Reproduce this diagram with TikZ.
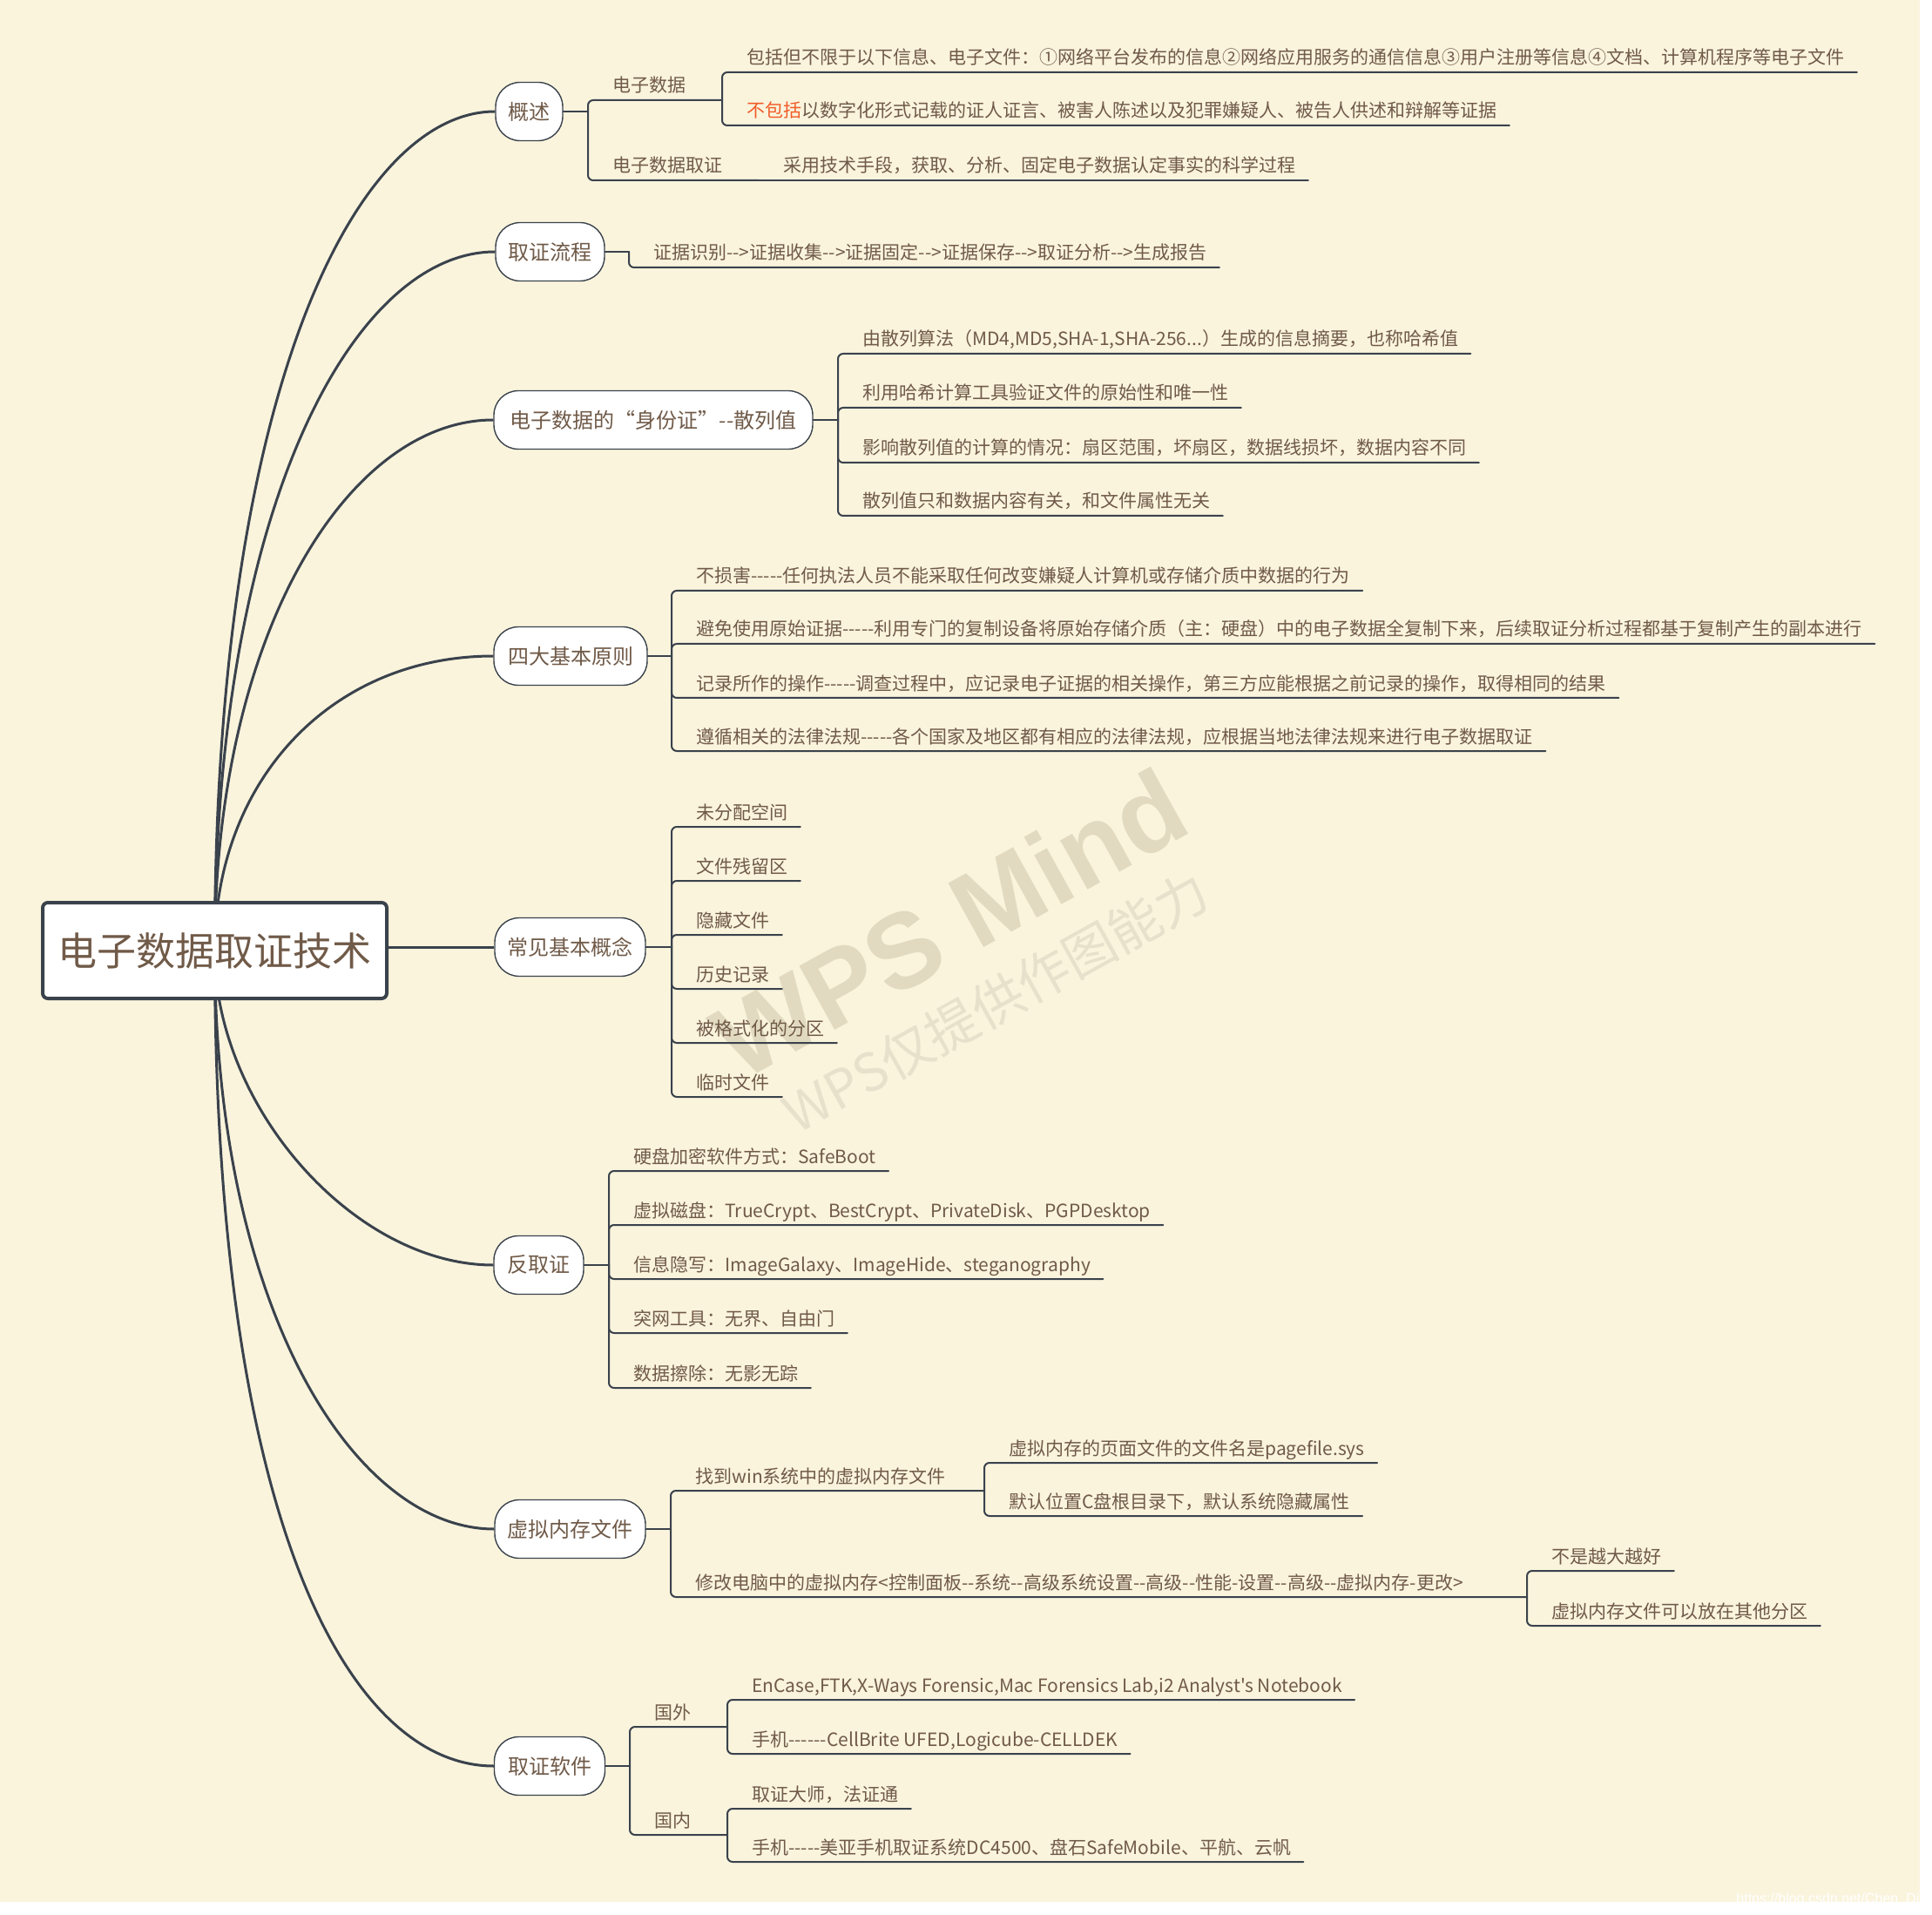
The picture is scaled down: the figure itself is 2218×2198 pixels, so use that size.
\documentclass[tikz,border=0pt]{standalone}
\usepackage{fontspec}
\newfontfamily\cjk{Noto Sans CJK SC}[Ligatures=TeXOff]
\newfontfamily\wmfont{Liberation Sans}
\usetikzlibrary{calc}
\pgfdeclarelayer{bgl}
\pgfdeclarelayer{edges}
\pgfsetlayers{bgl,edges,main}
\definecolor{bgc}{RGB}{250,244,221}
\definecolor{txt}{RGB}{112,90,72}
\definecolor{ln}{RGB}{58,66,76}
\definecolor{hl}{RGB}{240,92,40}
\definecolor{wma}{RGB}{225,218,193}
\definecolor{wmb}{RGB}{231,225,204}
% leaf: name, junction, Y, text
\newcommand\mmleaf[4]{%
  \coordinate (#1u) at (#2 |- 0,#3);
  \node[lbl] (#1) at ([xshift=14pt,yshift=4.5pt]#1u) {#4};
  \draw[ul] (#2) -- (#1u) -- (#1u -| #1.east) -- ++(14,0);
}
% straight leaf: name, junction, text
\newcommand\mmleafs[3]{%
  \coordinate (#1u) at (#2);
  \node[lbl] (#1) at ([xshift=14pt,yshift=4.5pt]#1u) {#3};
  \draw[ul] (#2) -- (#1u -| #1.east) -- ++(14,0);
}
% branch: name, junction, Y, text, subX
\newcommand\mmbranch[5]{%
  \coordinate (#1u) at (#2 |- 0,#3);
  \node[lbl] (#1) at ([xshift=14pt,yshift=4.5pt]#1u) {#4};
  \coordinate (#1j) at (#5,#3);
  \draw[ul] (#2) -- (#1u) -- (#1j);
}
\begin{document}
\begin{tikzpicture}[x=0.5pt,y=-0.5pt,
  rootbox/.style={draw=ln, line width=2pt, fill=white, rounded corners=3pt,
    minimum width=197.5pt, minimum height=55pt, inner sep=0pt,
    font=\cjk\fontsize{22.5}{26}\selectfont, text=txt},
  topic/.style={draw=ln, line width=0.7pt, fill=white, rounded corners=14pt,
    minimum height=33.5pt, inner xsep=7pt, inner ysep=2pt,
    font=\cjk\fontsize{12}{14}\selectfont, text=txt},
  lbl/.style={font=\cjk\fontsize{10.5}{12}\selectfont, text=txt, inner sep=0pt, anchor=base west},
  ul/.style={draw=ln, line width=1pt, rounded corners=3pt, line cap=round},
  stub/.style={draw=ln, line width=1.2pt, line cap=round},
  curve/.style={draw=ln, line width=1.5pt},
]
\useasboundingbox (0,0) rectangle (2218,2198);
\begin{pgfonlayer}{bgl}
  \fill[white] (0,0) rectangle (2218,2198);
  \fill[bgc] (0,0) rectangle (2204,2183);
  \node[font=\wmfont\bfseries\fontsize{61}{66}\selectfont, text=wma, rotate=29] (wm1) at (1090,1060) {WPS Mind};
  \node[font=\cjk\fontsize{30}{32}\selectfont, text=wmb, rotate=29] (wm2) at (1143,1150) {WPS仅提供作图能力};
\end{pgfonlayer}

% root and main topics
\node[rootbox] (root) at (246.5,1091) {电子数据取证技术};
\node[topic, minimum width=38.5pt] (n1) at (607.5,128) {概述};
\node[topic, minimum width=62.5pt] (n2) at (631.5,289) {取证流程};
\node[topic, minimum width=183pt] (n3) at (750,482) {电子数据的“身份证”--散列值};
\node[topic, minimum width=88pt] (n4) at (655,753) {四大基本原则};
\node[topic, minimum width=86.5pt] (n5) at (654.5,1087) {常见基本概念};
\node[topic, minimum width=51.5pt] (n6) at (618.5,1452) {反取证};
\node[topic, minimum width=86.5pt] (n7) at (654.5,1755) {虚拟内存文件};
\node[topic, minimum width=63.5pt] (n8) at (631,2027) {取证软件};

\begin{pgfonlayer}{edges}
  \draw[curve] (root.center) .. controls (246.5,436) and (413,128) .. (n1.west);
  \draw[curve] (root.center) .. controls (246.5,578) and (407,289) .. (n2.west);
  \draw[curve] (root.center) .. controls (246.5,726) and (400,482) .. (n3.west);
  \draw[curve] (root.center) .. controls (246.5,895) and (381,753) .. (n4.west);
  \draw[curve] (n5.west -| root.east) -- (n5.west);
  \draw[curve] (root.center) .. controls (246.5,1271) and (407,1452) .. (n6.west);
  \draw[curve] (root.center) .. controls (246.5,1503) and (407,1755) .. (n7.west);
  \draw[curve] (root.center) .. controls (246.5,1765) and (407,2027) .. (n8.west);
\end{pgfonlayer}

% junctions
\coordinate (n1j) at (675,128);  \draw[stub] (n1) -- (n1j);
\coordinate (n2j) at (722,289);  \draw[stub] (n2) -- (n2j);
\coordinate (n3j) at (962,482);  \draw[stub] (n3) -- (n3j);
\coordinate (n4j) at (771,753);  \draw[stub] (n4) -- (n4j);
\coordinate (n5j) at (771,1087); \draw[stub] (n5) -- (n5j);
\coordinate (n6j) at (699,1452); \draw[stub] (n6) -- (n6j);
\coordinate (n7j) at (770,1755); \draw[stub] (n7) -- (n7j);
\coordinate (n8j) at (723,2027); \draw[stub] (n8) -- (n8j);

% 概述
\mmbranch{c11}{n1j}{115}{电子数据}{829}
\mmleaf{c111}{c11j}{83}{包括但不限于以下信息、电子文件：①网络平台发布的信息②网络应用服务的通信信息③用户注册等信息④文档、计算机程序等电子文件}
\mmleaf{c112}{c11j}{144}{{\color{hl}不包括}以数字化形式记载的证人证言、被害人陈述以及犯罪嫌疑人、被告人供述和辩解等证据}
\mmbranch{c12}{n1j}{207}{电子数据取证}{871}
\mmleafs{c121}{c12j}{采用技术手段，获取、分析、固定电子数据认定事实的科学过程}

% 取证流程
\mmleaf{c21}{n2j}{307}{证据识别-->证据收集-->证据固定-->证据保存-->取证分析-->生成报告}

% 散列值
\mmleaf{c31}{n3j}{406}{由散列算法（MD4,MD5,SHA-1,SHA-256...）生成的信息摘要，也称哈希值}
\mmleaf{c32}{n3j}{468}{利用哈希计算工具验证文件的原始性和唯一性}
\mmleaf{c33}{n3j}{531}{影响散列值的计算的情况：扇区范围，坏扇区，数据线损坏，数据内容不同}
\mmleaf{c34}{n3j}{592}{散列值只和数据内容有关，和文件属性无关}

% 四大基本原则
\mmleaf{c41}{n4j}{678}{不损害-----任何执法人员不能采取任何改变嫌疑人计算机或存储介质中数据的行为}
\mmleaf{c42}{n4j}{739}{避免使用原始证据-----利用专门的复制设备将原始存储介质（主：硬盘）中的电子数据全复制下来，后续取证分析过程都基于复制产生的副本进行}
\mmleaf{c43}{n4j}{801}{记录所作的操作-----调查过程中，应记录电子证据的相关操作，第三方应能根据之前记录的操作，取得相同的结果}
\mmleaf{c44}{n4j}{862}{遵循相关的法律法规-----各个国家及地区都有相应的法律法规，应根据当地法律法规来进行电子数据取证}

% 常见基本概念
\mmleaf{c51}{n5j}{949}{未分配空间}
\mmleaf{c52}{n5j}{1011}{文件残留区}
\mmleaf{c53}{n5j}{1073}{隐藏文件}
\mmleaf{c54}{n5j}{1135}{历史记录}
\mmleaf{c55}{n5j}{1197}{被格式化的分区}
\mmleaf{c56}{n5j}{1259}{临时文件}

% 反取证
\mmleaf{c61}{n6j}{1344}{硬盘加密软件方式：SafeBoot}
\mmleaf{c62}{n6j}{1406}{虚拟磁盘：TrueCrypt、BestCrypt、PrivateDisk、PGPDesktop}
\mmleaf{c63}{n6j}{1468}{信息隐写：ImageGalaxy、ImageHide、steganography}
\mmleaf{c64}{n6j}{1530}{突网工具：无界、自由门}
\mmleaf{c65}{n6j}{1593}{数据擦除：无影无踪}

% 虚拟内存文件
\mmbranch{c71}{n7j}{1711}{找到win系统中的虚拟内存文件}{1130}
\mmleaf{c711}{c71j}{1679}{虚拟内存的页面文件的文件名是pagefile.sys}
\mmleaf{c712}{c71j}{1740}{默认位置C盘根目录下，默认系统隐藏属性}
\mmbranch{c72}{n7j}{1833}{修改电脑中的虚拟内存<控制面板--系统--高级系统设置--高级--性能-设置--高级--虚拟内存-更改>}{1753}
\mmleaf{c721}{c72j}{1803}{不是越大越好}
\mmleaf{c722}{c72j}{1866}{虚拟内存文件可以放在其他分区}

% 取证软件
\mmbranch{c81}{n8j}{1982}{国外}{835}
\mmleaf{c811}{c81j}{1951}{EnCase,FTK,X-Ways Forensic,Mac Forensics Lab,i2 Analyst's Notebook}
\mmleaf{c812}{c81j}{2013}{手机------CellBrite UFED,Logicube-CELLDEK}
\mmbranch{c82}{n8j}{2106}{国内}{835}
\mmleaf{c821}{c82j}{2076}{取证大师，法证通}
\mmleaf{c822}{c82j}{2137}{手机-----美亚手机取证系统DC4500、盘石SafeMobile、平航、云帆}

\node[font=\wmfont\fontsize{8}{9}\selectfont, text=white, anchor=base west, inner sep=0pt] (csdn) at (1993,2184) {https://blog.csdn.net/Chen\_Di};
\fill[white] (0,2183) rectangle (2218,2198);
\fill[white] (2204,0) rectangle (2218,2198);
\end{tikzpicture}
\end{document}
